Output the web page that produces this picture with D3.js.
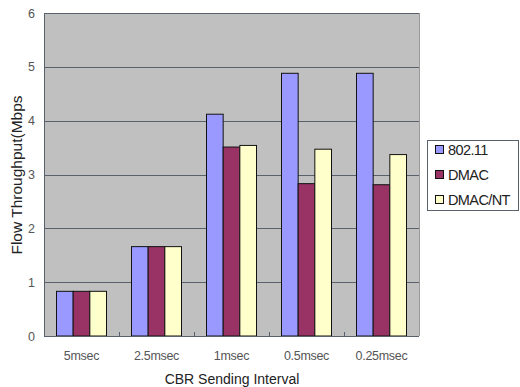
<!DOCTYPE html>
<html>
<head>
<meta charset="utf-8">
<script src="https://cdn.jsdelivr.net/npm/d3@7"></script>
<style>
  html, body { margin: 0; padding: 0; background: #fff; }
  svg { display: block; font-family: "Liberation Sans", Arial, sans-serif; }
</style>
</head>
<body>
<svg id="chart" width="520" height="387"></svg>
<script>
// Flow throughput per CBR sending interval for three MAC protocols
const categories = ["5msec", "2.5msec", "1msec", "0.5msec", "0.25msec"];
const seriesNames = ["802.11", "DMAC", "DMAC/NT"];
const values80211 = [0.83, 1.66, 4.12, 4.88, 4.88];
const valuesDMAC = [0.83, 1.66, 3.51, 2.83, 2.81];
const valuesDMACNT = [0.83, 1.66, 3.54, 3.47, 3.37];
const yTicks = [0, 1, 2, 3, 4, 5, 6];
const colors = ["#9999FF", "#993366", "#FFFFCC"];

const seriesValues = [values80211, valuesDMAC, valuesDMACNT];

const svg = d3.select("#chart");
const plot = { left: 44, right: 419, top: 13, bottom: 336 };

const x = d3.scaleBand().domain(categories).range([plot.left, plot.right]).paddingInner(0).paddingOuter(0);
const y = d3.scaleLinear().domain([0, 6]).range([plot.bottom, plot.top]);

// plot background
svg.append("rect")
  .attr("x", plot.left).attr("y", plot.top)
  .attr("width", plot.right - plot.left).attr("height", plot.bottom - plot.top)
  .attr("fill", "#C0C0C0");

// horizontal gridlines
svg.append("g").selectAll("line").data(yTicks.filter(d => d > 0)).join("line")
  .attr("x1", plot.left).attr("x2", plot.right)
  .attr("y1", d => Math.round(y(d)) + 0.5).attr("y2", d => Math.round(y(d)) + 0.5)
  .attr("stroke", "#58626c").attr("stroke-width", 1);

// bars
const inner = d3.scaleBand().domain(seriesNames).range([0, x.bandwidth()]).paddingOuter(0.75).paddingInner(0);
const groups = svg.append("g").selectAll("g").data(categories).join("g")
  .attr("transform", d => `translate(${x(d)},0)`);
groups.selectAll("rect").data((c, i) => seriesNames.map((s, k) => ({ s, k, v: seriesValues[k][i] }))).join("rect")
  .attr("x", d => inner(d.s))
  .attr("y", d => y(d.v))
  .attr("width", inner.bandwidth())
  .attr("height", d => y(0) - y(d.v))
  .attr("fill", d => colors[d.k])
  .attr("stroke", "#111").attr("stroke-width", 1);

// x axis with inward ticks at category boundaries
const xAxisG = svg.append("g");
xAxisG.append("line")
  .attr("x1", plot.left).attr("x2", plot.right)
  .attr("y1", plot.bottom + 0.5).attr("y2", plot.bottom + 0.5)
  .attr("stroke", "#58626c");
xAxisG.selectAll("line.tick").data(categories.slice(1)).join("line")
  .attr("class", "tick")
  .attr("x1", d => Math.round(x(d)) + 0.5).attr("x2", d => Math.round(x(d)) + 0.5)
  .attr("y1", plot.bottom).attr("y2", plot.bottom - 4)
  .attr("stroke", "#58626c");
xAxisG.selectAll("text").data(categories).join("text")
  .attr("x", d => x(d) + x.bandwidth() / 2)
  .attr("y", 360)
  .attr("text-anchor", "middle")
  .attr("font-size", 12.5)
  .attr("letter-spacing", -0.3)
  .attr("fill", "#555")
  .text(d => d);

// y axis
const yAxis = d3.axisLeft(y).tickValues(yTicks).tickSize(0).tickPadding(9).tickFormat(d3.format("d"));
const yAxisG = svg.append("g").attr("transform", `translate(${plot.left},0)`).call(yAxis);
yAxisG.select(".domain").attr("stroke", "#58626c");
yAxisG.selectAll("text").attr("font-size", 12.5).attr("fill", "#555").attr("font-family", "Liberation Sans, Arial, sans-serif");

// right edge of plot
svg.append("line")
  .attr("x1", plot.right + 0.5).attr("x2", plot.right + 0.5)
  .attr("y1", plot.top).attr("y2", plot.bottom)
  .attr("stroke", "#999");

// axis titles
svg.append("text")
  .attr("x", 232).attr("y", 384)
  .attr("text-anchor", "middle")
  .attr("font-size", 14)
  .attr("fill", "#222")
  .text("CBR Sending Interval");

svg.append("text")
  .attr("transform", "translate(22,175) rotate(-90)")
  .attr("text-anchor", "middle")
  .attr("font-size", 15.5)
  .attr("fill", "#222")
  .text("Flow Throughput(Mbps");

// legend
const legend = svg.append("g");
legend.append("rect")
  .attr("x", 427.5).attr("y", 140.5)
  .attr("width", 91).attr("height", 70)
  .attr("fill", "#fff").attr("stroke", "#58626c");
const items = legend.selectAll("g").data(seriesNames).join("g")
  .attr("transform", (d, i) => `translate(0,${150 + i * 25})`);
items.append("rect")
  .attr("x", 435.5).attr("y", -4.5)
  .attr("width", 8).attr("height", 8)
  .attr("fill", (d, i) => colors[i]).attr("stroke", "#111");
items.append("text")
  .attr("x", 448).attr("y", 5)
  .attr("font-size", 14.5)
  .attr("fill", "#222")
  .attr("letter-spacing", -0.6)
  .text(d => d);
</script>
</body>
</html>
